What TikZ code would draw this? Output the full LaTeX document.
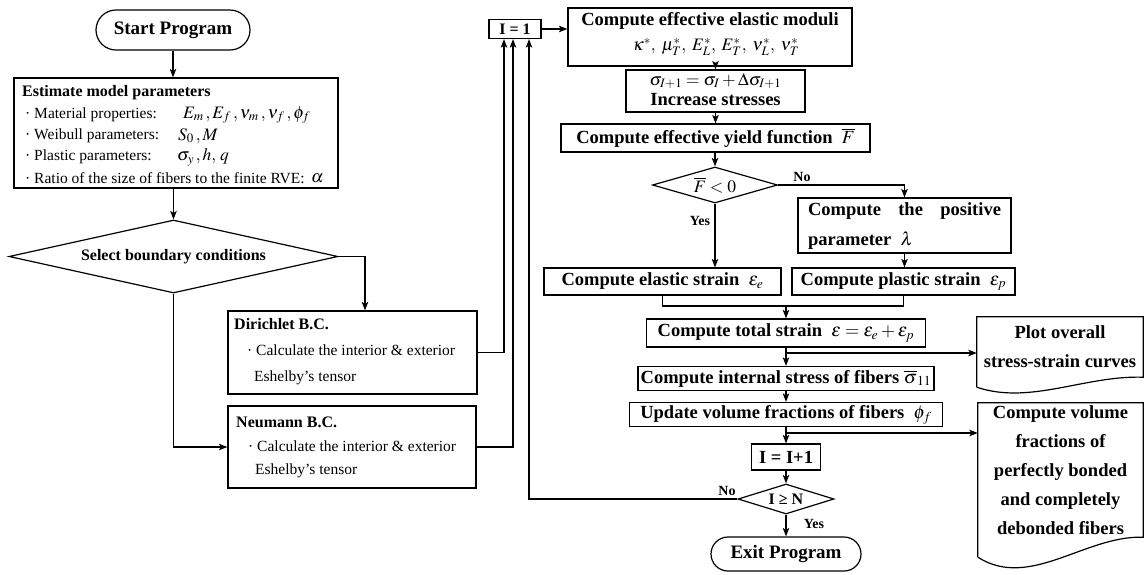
\documentclass[tikz,border=0pt]{standalone}
\usepackage{mathptmx}
\usepackage{fontspec}
\setmainfont{Liberation Serif}
\usetikzlibrary{arrows.meta,shapes.geometric,shapes.misc,calc}
\newcommand\FtTitle{\fontsize{19}{22}\selectfont\bfseries}
\newcommand\FtBig{\fontsize{18.5}{29}\selectfont\bfseries}
\newcommand\FtMid{\fontsize{16}{19}\selectfont\bfseries}
\newcommand\FtReg{\fontsize{15.5}{19}\selectfont}
\newcommand\FtLab{\fontsize{14}{16}\selectfont\bfseries}
\newcommand\FtMath{\fontsize{17.5}{20}\selectfont}
\begin{document}
\begin{tikzpicture}[x=1pt,y=-1pt,
  box/.style={draw,line width=1.2pt,inner sep=0pt,rectangle},
  term/.style={draw,line width=1.2pt,inner sep=0pt,rounded rectangle},
  dia/.style={draw,line width=1.2pt,inner sep=0pt,diamond},
  txt/.style={inner sep=0pt},
  ltxt/.style={inner sep=0pt,anchor=west},
  arr/.style={line width=1.2pt,-{Stealth[length=8.5pt,width=6.5pt,inset=2pt]}},
  ln/.style={line width=1.2pt}]
\path[fill=white] (0,0) rectangle (1145,574);
\useasboundingbox (0,0) rectangle (1145,574);

% ---------- left column ----------
\node[term,minimum width=154pt,minimum height=40pt,font=\FtTitle] (start) at (173,30) {Start Program};

\node[box,minimum width=324pt,minimum height=110pt] (est) at (176,133) {};
\node[ltxt,font=\FtMid] (estT) at (22,93) {Estimate model parameters};
\node[ltxt,font=\FtReg] (estA) at (25,115) {· Material properties:};
\node[ltxt,font=\FtMath] (estAm) at (183,115) {$E_m\,, E_f\,, \nu_m\,, \nu_f\,, \phi_f$};
\node[ltxt,font=\FtReg] (estB) at (25,136) {· Weibull parameters:};
\node[ltxt,font=\FtMath] (estBm) at (178,136) {$S_0\,, M$};
\node[ltxt,font=\FtReg] (estC) at (25,157) {· Plastic parameters:};
\node[ltxt,font=\FtMath] (estCm) at (177,157) {$\sigma_y\,, h, \,q$};
\node[ltxt,font=\FtReg] (estD) at (25,178) {· Ratio of the size of fibers to the finite RVE:};
\node[ltxt,font=\FtMath] (estDm) at (311,178) {$\alpha$};

\node[dia,shape aspect=4.5,minimum width=329pt,minimum height=73pt,font=\FtMid] (bc) at (173.5,256.5) {Select boundary conditions};

\node[box,minimum width=249pt,minimum height=83pt] (dir) at (352.5,352.5) {};
\node[ltxt,font=\FtMid] (dirT) at (234,324) {Dirichlet B.C.};
\node[ltxt,font=\FtReg] (dirA) at (247,350) {· Calculate the interior \& exterior};
\node[ltxt,font=\FtReg] (dirB) at (254,378) {Eshelby’s tensor};

\node[box,minimum width=248pt,minimum height=82pt] (neu) at (352,447) {};
\node[ltxt,font=\FtMid] (neuT) at (236,422) {Neumann B.C.};
\node[ltxt,font=\FtReg] (neuA) at (248,446) {· Calculate the interior \& exterior};
\node[ltxt,font=\FtReg] (neuB) at (255,471) {Eshelby’s tensor};

% ---------- right column ----------
\node[box,minimum width=52pt,minimum height=19pt,font=\FtMid] (one) at (515,29) {I = 1};

\node[box,minimum width=284pt,minimum height=58pt] (mod) at (710,37) {};
\node[txt,font=\FtBig] (modT) at (710,21) {Compute effective elastic moduli};
\node[txt,font=\FtMath] (modM) at (716,47) {$\kappa^*,\; \mu_T^*,\; E_L^*,\; E_T^*,\; \nu_L^*,\; \nu_T^*$};

\node[box,minimum width=179pt,minimum height=42pt] (sig) at (715.5,91) {};
\node[txt,font=\FtMath] (sigM) at (715.5,81) {$\sigma_{I+1}=\sigma_I+\Delta\sigma_{I+1}$};
\node[txt,font=\FtBig] (sigT) at (715.5,100) {Increase stresses};

\node[box,minimum width=309pt,minimum height=28pt,font=\FtBig] (yld) at (715.5,138) {Compute effective yield function\ \ {\mdseries$\overline{F}$}};

\node[dia,shape aspect=3.5,minimum width=125pt,minimum height=36pt,font=\FtMath] (fz) at (715,185) {$\overline{F}<0$};
\node[txt,font=\FtLab] (fzNo) at (802,177) {No};
\node[txt,font=\FtLab] (fzYes) at (700,221) {Yes};

\node[box,minimum width=213pt,minimum height=55pt] (par) at (904.5,225.5) {};
\node[txt,font=\FtBig] (parA) at (904.5,211) {\makebox[193pt][s]{Compute the positive}};
\node[ltxt,font=\FtBig] (parB) at (808,241) {parameter\ \ {\mdseries$\lambda$}};

\node[box,minimum width=237pt,minimum height=27pt,font=\FtBig] (ela) at (662.5,281.5) {Compute elastic strain\ \ {\mdseries$\varepsilon_e$}};
\node[box,minimum width=223pt,minimum height=27pt,font=\FtBig] (pla) at (903.5,281.5) {Compute plastic strain\ \ {\mdseries$\varepsilon_p$}};

\node[box,minimum width=279pt,minimum height=28pt,font=\FtBig] (tot) at (786,333) {Compute total strain\ \ {\mdseries$\varepsilon=\varepsilon_e+\varepsilon_p$}};
\node[box,minimum width=296pt,minimum height=24pt,font=\FtBig] (int) at (786,378.5) {Compute internal stress of fibers {\mdseries$\overline{\sigma}_{11}$}};
\node[box,minimum width=313pt,minimum height=24pt,font=\FtBig] (upd) at (786,414.5) {Update volume fractions of fibers\ \ {\mdseries$\phi_f$}};
\node[box,minimum width=69pt,minimum height=26pt,font=\FtBig] (inc) at (786,457) {I = I+1};
\node[dia,shape aspect=3.2,minimum width=96pt,minimum height=30pt,font=\FtMid] (chk) at (786,499) {I ≥ N};
\node[txt,font=\FtLab] (chkNo) at (727,491) {No};
\node[txt,font=\FtLab] (chkYes) at (814,524) {Yes};
\node[term,minimum width=150pt,minimum height=34pt,font=\FtTitle] (exit) at (786,554) {Exit Program};

% document shapes
\node[txt,minimum width=166pt,minimum height=60pt,font=\FtBig,align=center] (plot) at (1060,347) {Plot overall\\stress-strain curves};
\draw[ln] (plot.south west) ++(0,10) -- (plot.north west) -- (plot.north east) -- (plot.south east)
  .. controls +(-58,-2) and +(53,18) .. ($(plot.south west)+(0,10)$);
\node[txt,minimum width=165pt,minimum height=134pt,font=\FtBig,align=center] (vol) at (1060.5,470) {Compute volume\\fractions of\\perfectly bonded\\and completely\\debonded fibers};
\draw[ln] (vol.south west) ++(0,20) -- (vol.north west) -- (vol.north east) -- (vol.south east)
  .. controls +(-58,-2) and +(52,33) .. ($(vol.south west)+(0,20)$);

% ---------- connectors ----------
\draw[arr] (start.south) -- (start.south |- est.north);
\draw[arr] (bc.north |- est.south) -- (bc.north);
\draw[arr] (bc.east) -| ([xshift=12.5pt]dir.north);
\draw[arr] (bc.south) |- (neu.west);
\draw[arr] (dir.east) -| ([xshift=-11pt]one.south);
\draw[arr] (neu.east) -| ([xshift=-2pt]one.south);
\draw[arr] (chk.west) -| ([xshift=14pt]one.south);
\draw[arr] (one.east) -- (one.east -| mod.west);
\draw[arr] (sig.north |- mod.south) -- (sig.north);
\draw[arr] (sig.south) -- (yld.north);
\draw[arr] (fz.north |- yld.south) -- (fz.north);
\draw[arr] (fz.east) -| (par.north);
\draw[arr] (fz.south) -- (fz.south |- ela.north);
\draw[arr] (par.south) -- (par.south |- pla.north);
\coordinate (mg) at (786,306);
\draw[ln] (ela.south) |- (mg) -| (pla.south);
\draw[arr] (mg) -- (tot.north);
\draw[arr] (tot.south) -- (int.north);
\coordinate (b1) at (786,353);
\draw[arr] (b1) -- (b1 -| plot.west);
\draw[arr] (int.south) -- (upd.north);
\draw[arr] (upd.south) -- (inc.north);
\coordinate (b2) at (786,433);
\draw[arr] (b2) -- (b2 -| vol.west);
\draw[arr] (inc.south) -- (chk.north);
\draw[arr] (chk.south) -- (exit.north);
\end{tikzpicture}
\end{document}
